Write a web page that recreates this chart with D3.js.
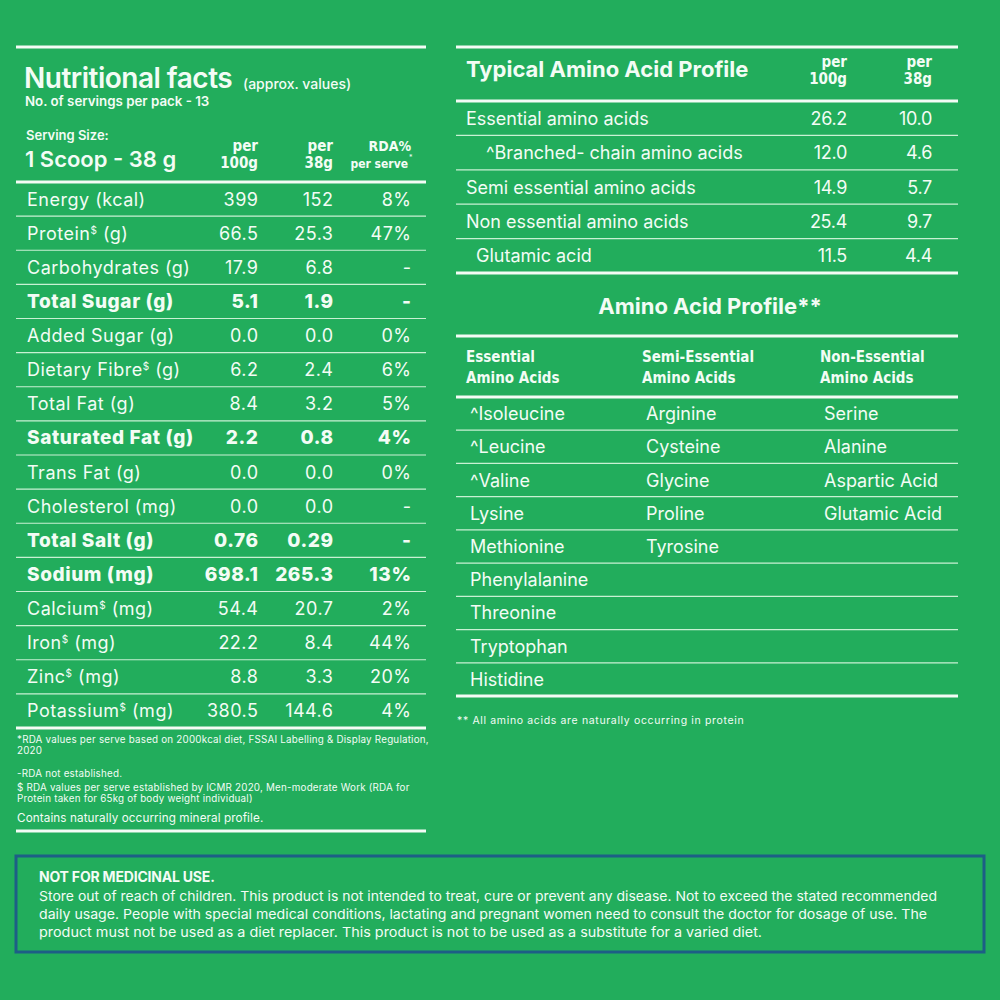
<!DOCTYPE html>
<html>
<head>
<meta charset="utf-8">
<script src="https://cdn.jsdelivr.net/npm/d3@7"></script>
<style>
  body { margin: 0; background: #22ad5c; }
  svg { display: block; }
</style>
</head>
<body>
<div id="label"></div>
<script>
// nutrition table
var nutrients = ['Energy (kcal)', 'Protein', 'Carbohydrates (g)', 'Total Sugar (g)', 'Added Sugar (g)',
  'Dietary Fibre', 'Total Fat (g)', 'Saturated Fat (g)', 'Trans Fat (g)', 'Cholesterol (mg)',
  'Total Salt (g)', 'Sodium (mg)', 'Calcium', 'Iron', 'Zinc', 'Potassium'];
var nutrientUnits = ['', ' (g)', '', '', '', ' (g)', '', '', '', '', '', '', ' (mg)', ' (mg)', ' (mg)', ' (mg)'];
var per100g = ['399', '66.5', '17.9', '5.1', '0.0', '6.2', '8.4', '2.2', '0.0', '0.0', '0.76', '698.1', '54.4', '22.2', '8.8', '380.5'];
var per38g = ['152', '25.3', '6.8', '1.9', '0.0', '2.4', '3.2', '0.8', '0.0', '0.0', '0.29', '265.3', '20.7', '8.4', '3.3', '144.6'];
var rdaPct = ['8%', '47%', '-', '-', '0%', '6%', '5%', '4%', '0%', '-', '-', '13%', '2%', '44%', '20%', '4%'];
var boldRows = ['Total Sugar (g)', 'Saturated Fat (g)', 'Total Salt (g)', 'Sodium (mg)'];
var dollarRows = ['Protein', 'Dietary Fibre', 'Calcium', 'Iron', 'Zinc', 'Potassium'];

// typical amino acid profile
var aminoGroups = ['Essential amino acids', '^Branched- chain amino acids', 'Semi essential amino acids',
  'Non essential amino acids', 'Glutamic acid'];
var aminoIndent = [0, 20, 0, 0, 10];
var amino100g = ['26.2', '12.0', '14.9', '25.4', '11.5'];
var amino38g = ['10.0', '4.6', '5.7', '9.7', '4.4'];

// amino acid profile lists
var essential = ['^Isoleucine', '^Leucine', '^Valine', 'Lysine', 'Methionine', 'Phenylalanine', 'Threonine', 'Tryptophan', 'Histidine'];
var semiEssential = ['Arginine', 'Cysteine', 'Glycine', 'Proline', 'Tyrosine'];
var nonEssential = ['Serine', 'Alanine', 'Aspartic Acid', 'Glutamic Acid'];

var leftNotes = [
  '*RDA values per serve based on 2000kcal diet, FSSAI Labelling & Display Regulation,',
  '2020',
  '-RDA not established.',
  '$ RDA values per serve established by ICMR 2020, Men-moderate Work (RDA for',
  'Protein taken for 65kg of body weight individual)'
];
var warning = [
  'Store out of reach of children. This product is not intended to treat, cure or prevent any disease. Not to exceed the stated recommended',
  'daily usage. People with special medical conditions, lactating and pregnant women need to consult the doctor for dosage of use. The',
  'product must not be used as a diet replacer. This product is not to be used as a substitute for a varied diet.'
];

var ink = '#f3fcf5', rule = '#c9f1d3';
var font = 'Inter, "Open Sans", sans-serif';
var cond = '"DejaVu Sans Condensed", "DejaVu Sans", sans-serif';

var svg = d3.select('#label').append('svg')
    .attr('width', 1000)
    .attr('height', 1000)
    .style('font-family', font);

svg.append('rect').attr('width', 1000).attr('height', 1000).attr('fill', '#22ad5c');

function hline(g, x1, x2, y, w) {
  g.append('line')
    .attr('x1', x1).attr('x2', x2)
    .attr('y1', y).attr('y2', y)
    .attr('stroke', w > 1.5 ? ink : rule)
    .attr('stroke-width', w);
}

// ---------- left panel ----------
var left = svg.append('g').attr('fill', ink);
hline(left, 16, 426, 47, 3);

left.append('text').attr('x', 24).attr('y', 88)
    .attr('font-size', '28px').attr('font-weight', 600).attr('letter-spacing', '-0.5px')
    .text('Nutritional facts');
left.append('text').attr('x', 243).attr('y', 89)
    .attr('font-size', '14px').attr('font-weight', 500)
    .text('(approx. values)');
left.append('text').attr('x', 25).attr('y', 106)
    .attr('font-size', '13.3px').attr('font-weight', 600)
    .text('No. of servings per pack - 13');
left.append('text').attr('x', 26).attr('y', 140)
    .attr('font-size', '13px').attr('font-weight', 600)
    .text('Serving Size:');
left.append('text').attr('x', 25).attr('y', 167)
    .attr('font-size', '22px').attr('font-weight', 600)
    .text('1 Scoop - 38 g');

var colX = d3.scaleOrdinal().domain(['p100', 'p38', 'rda']).range([258, 333, 411]);

[['p100', 'per', '100g'], ['p38', 'per', '38g']].forEach(function (h) {
  left.append('text').attr('x', colX(h[0])).attr('y', 151).attr('text-anchor', 'end')
      .attr('font-family', cond).attr('font-size', '15px').attr('font-weight', 'bold').text(h[1]);
  left.append('text').attr('x', colX(h[0])).attr('y', 168).attr('text-anchor', 'end')
      .attr('font-family', cond).attr('font-size', '15px').attr('font-weight', 'bold').text(h[2]);
});
left.append('text').attr('x', colX('rda')).attr('y', 151).attr('text-anchor', 'end')
    .attr('font-family', cond).attr('font-size', '14px').attr('font-weight', 'bold').text('RDA%');
left.append('text').attr('x', colX('rda') - 3).attr('y', 168).attr('text-anchor', 'end')
    .attr('font-family', cond).attr('font-size', '12px').attr('font-weight', 'bold').text('per serve');
left.append('text').attr('x', colX('rda') - 2).attr('y', 160).attr('text-anchor', 'start')
    .attr('font-size', '7px').text('*');

hline(left, 16, 426, 182, 3);

var yRow = d3.scaleBand().domain(d3.range(nutrients.length)).range([182, 728]);

nutrients.forEach(function (name, i) {
  var cy = yRow(i) + yRow.bandwidth() / 2 + 6.5;
  var bold = boldRows.indexOf(name) >= 0;
  var weight = bold ? 800 : 400;
  var size = bold ? '19px' : '18px';
  var ls = bold ? 0.6 : 0.5;
  var t = left.append('text').attr('x', 27).attr('y', cy)
      .attr('font-size', size).attr('font-weight', weight)
      .attr('letter-spacing', ls + 'px');
  t.append('tspan').text(name);
  if (dollarRows.indexOf(name) >= 0) {
    t.append('tspan').attr('font-size', '10px').attr('dy', -6).text('$');
    t.append('tspan').attr('dy', 6).text(nutrientUnits[i]);
  }
  [['p100', per100g[i]], ['p38', per38g[i]], ['rda', rdaPct[i]]].forEach(function (c) {
    left.append('text').attr('x', colX(c[0]) + ls).attr('y', cy).attr('text-anchor', 'end')
        .attr('font-size', size).attr('font-weight', weight).attr('letter-spacing', ls + 'px')
        .text(c[1]);
  });
  if (i < nutrients.length - 1) hline(left, 16, 426, yRow(i) + yRow.bandwidth(), 1.2);
});
hline(left, 16, 426, 728, 3);

var noteY = [743, 754, 777, 791, 802];
leftNotes.forEach(function (n, i) {
  left.append('text').attr('x', 17).attr('y', noteY[i])
      .attr('font-size', '9.8px').attr('letter-spacing', '0.22px').text(n);
});
left.append('text').attr('x', 17).attr('y', 822)
    .attr('font-size', '11.7px').attr('letter-spacing', '0.1px')
    .text('Contains naturally occurring mineral profile.');
hline(left, 16, 426, 831, 3);

// ---------- right panel: typical profile ----------
var right = svg.append('g').attr('fill', ink);
hline(right, 456, 958, 47, 3);
right.append('text').attr('x', 466).attr('y', 77)
    .attr('font-size', '22px').attr('font-weight', 700)
    .text('Typical Amino Acid Profile');

var acX = d3.scaleOrdinal().domain(['p100', 'p38']).range([847, 932]);
[['p100', '100g'], ['p38', '38g']].forEach(function (h) {
  right.append('text').attr('x', acX(h[0])).attr('y', 67).attr('text-anchor', 'end')
      .attr('font-family', cond).attr('font-size', '15px').attr('font-weight', 'bold').text('per');
  right.append('text').attr('x', acX(h[0])).attr('y', 84).attr('text-anchor', 'end')
      .attr('font-family', cond).attr('font-size', '15px').attr('font-weight', 'bold').text(h[1]);
});
hline(right, 456, 958, 101, 3);

var yAc = d3.scaleBand().domain(d3.range(aminoGroups.length)).range([101, 273]);
aminoGroups.forEach(function (name, i) {
  var cy = yAc(i) + yAc.bandwidth() / 2 + 6.5;
  right.append('text').attr('x', 466 + aminoIndent[i]).attr('y', cy)
      .attr('font-size', '18px').text(name);
  right.append('text').attr('x', acX('p100')).attr('y', cy).attr('text-anchor', 'end')
      .attr('font-size', '18px').attr('letter-spacing', '-0.3px').text(amino100g[i]);
  right.append('text').attr('x', acX('p38')).attr('y', cy).attr('text-anchor', 'end')
      .attr('font-size', '18px').attr('letter-spacing', '-0.3px').text(amino38g[i]);
  if (i < aminoGroups.length - 1) hline(right, 456, 958, yAc(i) + yAc.bandwidth(), 1.2);
});
hline(right, 456, 958, 273, 3);

// ---------- right panel: amino acid profile ----------
right.append('text').attr('x', 710).attr('y', 314).attr('text-anchor', 'middle')
    .attr('font-size', '22px').attr('font-weight', 700)
    .text('Amino Acid Profile**');
hline(right, 456, 958, 336, 3);

var listX = d3.scaleOrdinal().domain([0, 1, 2]).range([466, 642, 820]);
[['Essential', 'Amino Acids'], ['Semi-Essential', 'Amino Acids'], ['Non-Essential', 'Amino Acids']].forEach(function (h, i) {
  right.append('text').attr('x', listX(i)).attr('y', 362)
      .attr('font-family', cond).attr('font-size', '15px').attr('font-weight', 'bold').text(h[0]);
  right.append('text').attr('x', listX(i)).attr('y', 383)
      .attr('font-family', cond).attr('font-size', '15px').attr('font-weight', 'bold').text(h[1]);
});
hline(right, 456, 958, 397, 3);

var yList = d3.scaleBand().domain(d3.range(essential.length)).range([397, 696]);
[essential, semiEssential, nonEssential].forEach(function (list, c) {
  list.forEach(function (name, i) {
    right.append('text').attr('x', listX(c) + 4).attr('y', yList(i) + yList.bandwidth() / 2 + 6.5)
        .attr('font-size', '18px').text(name);
  });
});
essential.forEach(function (d, i) {
  if (i < essential.length - 1) hline(right, 456, 958, yList(i) + yList.bandwidth(), 1.2);
});
hline(right, 456, 958, 696, 3);

right.append('text').attr('x', 457).attr('y', 724)
    .attr('font-size', '10.5px').attr('letter-spacing', '0.65px')
    .text('** All amino acids are naturally occurring in protein');

// ---------- warning box ----------
var box = svg.append('g').attr('fill', ink);
box.append('rect').attr('x', 16).attr('y', 856).attr('width', 968).attr('height', 96)
    .attr('fill', '#22ad5c').attr('stroke', '#1d5e86').attr('stroke-width', 3);
box.append('text').attr('x', 39).attr('y', 882)
    .attr('font-size', '14px').attr('font-weight', 700).attr('letter-spacing', '-0.2px')
    .text('NOT FOR MEDICINAL USE.');
var warnW = [898, 888, 723];
warning.forEach(function (line, i) {
  box.append('text').attr('x', 39).attr('y', 901 + i * 18)
      .attr('font-size', '13.5px')
      .attr('textLength', warnW[i]).attr('lengthAdjust', 'spacingAndGlyphs')
      .text(line);
});
</script>
</body>
</html>
